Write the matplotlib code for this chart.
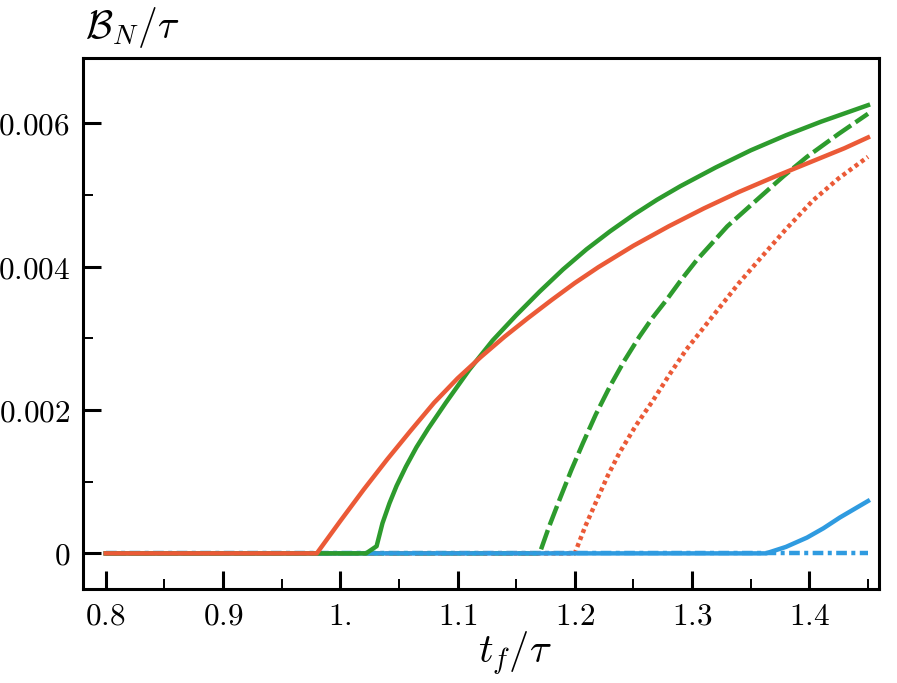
import matplotlib
matplotlib.use("Agg")
import matplotlib.pyplot as plt

# values (t_f / tau on x, B_N / tau on y)
orange_x = [0.80, 0.98, 1.00, 1.02, 1.04, 1.06, 1.08, 1.10, 1.12, 1.14, 1.16, 1.18, 1.20,
            1.22, 1.25, 1.28, 1.31, 1.34, 1.37, 1.40, 1.43, 1.45]
orange_y = [0, 0, 0.00045, 0.00089, 0.00131, 0.00171, 0.00210, 0.00244, 0.00274, 0.00302,
            0.00328, 0.00353, 0.00377, 0.00399, 0.00429, 0.00456, 0.00481, 0.00504, 0.00525,
            0.00545, 0.00565, 0.00580]

green_x = [0.80, 1.022, 1.031, 1.036, 1.042, 1.048, 1.056, 1.065, 1.075, 1.09, 1.11, 1.13,
           1.15, 1.17, 1.19, 1.21, 1.23, 1.25, 1.27, 1.29, 1.32, 1.35, 1.38, 1.41, 1.45]
green_y = [0, 0, 0.00010, 0.00042, 0.00070, 0.00094, 0.00121, 0.00148, 0.00174, 0.00210,
           0.00256, 0.00297, 0.00332, 0.00365, 0.00396, 0.00424, 0.00449, 0.00472, 0.00493,
           0.00512, 0.00538, 0.00562, 0.00583, 0.00602, 0.00625]

green_dash_x = [0.80, 1.170, 1.178, 1.187, 1.197, 1.207, 1.218, 1.230, 1.242, 1.255, 1.266,
                1.278, 1.291, 1.304, 1.330, 1.358, 1.378, 1.398, 1.425, 1.45]
green_dash_y = [0, 0, 0.00037, 0.00075, 0.00116, 0.00154, 0.00194, 0.00233, 0.00268, 0.00302,
                0.00328, 0.00353, 0.00382, 0.00409, 0.00456, 0.00497, 0.00526, 0.00553, 0.00585,
                0.00613]

orange_dot_x = [0.80, 1.200, 1.209, 1.219, 1.228, 1.238, 1.252, 1.267, 1.281, 1.295, 1.310,
                1.324, 1.340, 1.358, 1.380, 1.403, 1.425, 1.45]
orange_dot_y = [0, 0, 0.00038, 0.00075, 0.00108, 0.00140, 0.00178, 0.00214, 0.00250, 0.00284,
                0.00315, 0.00344, 0.00377, 0.00411, 0.00452, 0.00492, 0.00523, 0.00553]

blue_x = [0.80, 1.363, 1.38, 1.398, 1.412, 1.426, 1.45]
blue_y = [0, 0, 0.00009, 0.00022, 0.00035, 0.00050, 0.00073]

blue_dd_x = [0.80, 1.45]
blue_dd_y = [0, 0]

xticks = [0.8, 0.9, 1.0, 1.1, 1.2, 1.3, 1.4]
xtick_labels = ["0.8", "0.9", "1.", "1.1", "1.2", "1.3", "1.4"]
yticks = [0, 0.002, 0.004, 0.006]
ytick_labels = ["0", "0.002", "0.004", "0.006"]

ORANGE = "#EB5A37"
GREEN = "#2D9B2D"
BLUE = "#2F9BE0"

plt.rcParams["mathtext.fontset"] = "cm"

fig = plt.figure(figsize=(8.97, 6.83), dpi=100)
ax = fig.add_axes([0.0922, 0.1376, 0.888, 0.7775])

lw = 3.2
# the zero stretches overlap, so order matters: later lines sit on top
ax.plot(blue_dd_x, blue_dd_y, color=BLUE, lw=lw, dashes=(2.4, 1.0, 0.9, 1.0))
ax.plot(green_dash_x, green_dash_y, color=GREEN, lw=lw, dashes=(4.6, 1.2))
ax.plot(orange_dot_x, orange_dot_y, color=ORANGE, lw=lw, dashes=(0.9, 0.8))
ax.plot(blue_x, blue_y, color=BLUE, lw=lw, solid_joinstyle="round")
ax.plot(green_x, green_y, color=GREEN, lw=lw, solid_joinstyle="round")
ax.plot(orange_x, orange_y, color=ORANGE, lw=lw, solid_joinstyle="round")

ax.set_xlim(0.7804, 1.4596)
ax.set_ylim(-0.000497, 0.006908)

ax.set_xticks(xticks)
ax.set_xticklabels(["$%s$" % s for s in xtick_labels])
ax.set_xticks([0.85, 0.95, 1.05, 1.15, 1.25, 1.35, 1.45], minor=True)
ax.set_yticks(yticks)
ax.set_yticklabels(["$%s$" % s for s in ytick_labels])
ax.set_yticks([0.001, 0.003, 0.005], minor=True)

ax.tick_params(which="major", direction="in", length=13, width=2.2, labelsize=22.5, pad=9)
ax.tick_params(which="minor", direction="in", length=7, width=1.4)
for sp in ax.spines.values():
    sp.set_linewidth(2.2)

# axis labels placed like the original (y label above the frame)
fig.text(85 / 897, 1 - 38 / 683, r"$\mathcal{B}_N/\tau$", fontsize=28.5, ha="left", va="baseline")
fig.text(515 / 897, 1 - 663 / 683, r"$t_f/\tau$", fontsize=29, ha="center", va="baseline")

fig.savefig("out.png", dpi=100)
